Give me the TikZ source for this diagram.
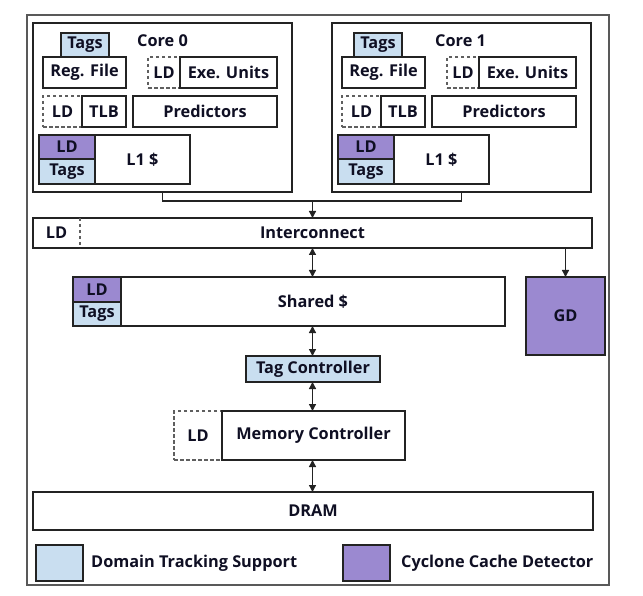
\documentclass[tikz,border=0pt]{standalone}
\usepackage{fontspec}
\setmainfont{Open Sans}
\usetikzlibrary{arrows.meta}
\definecolor{dtblue}{RGB}{201,222,240}
\definecolor{ccpurple}{RGB}{155,137,208}
\definecolor{edge}{RGB}{35,35,35}
\definecolor{dashc}{RGB}{95,95,95}
\definecolor{txt}{RGB}{15,15,35}
\tikzset{
  box/.style={draw=edge, line width=1.4pt, fill=white, inner sep=0pt, outer sep=0pt, anchor=north west, font=\fontsize{16.3}{18}\selectfont\bfseries, text=txt},
  ldbox/.style={box, draw=dashc, dash pattern=on 3.5pt off 2.5pt, fill=none},
  blu/.style={box, fill=dtblue},
  pur/.style={box, fill=ccpurple},
  lbl/.style={inner sep=0pt, font=\fontsize{16.3}{18}\selectfont\bfseries, text=txt},
  arr/.style={draw=edge, line width=1.3pt, -{Triangle[length=7pt,width=7pt]}},
  darr/.style={draw=edge, line width=1.3pt, {Triangle[length=7pt,width=7pt]}-{Triangle[length=7pt,width=7pt]}},
  ln/.style={draw=edge, line width=1.3pt},
}
\begin{document}
\begin{tikzpicture}[x=1pt,y=-1pt]
\useasboundingbox (0,0) rectangle (643,596);
\draw[draw=gray!70!black, line width=1.6pt] (27,15) rectangle (609,585);
% Core 0
\node[box, minimum width=259pt, minimum height=169pt] (core0) at (33,23) {};
\node[blu, minimum width=48pt, minimum height=24pt] (tags0) at (61,33) {Tags};
\node[lbl, anchor=west] (c0lbl) at (137,41) {Core 0};
\node[box, minimum width=83pt, minimum height=31pt] (reg0) at (43,57) {Reg. File};
\node[ldbox, minimum width=32pt, minimum height=31pt] (ldexe0) at (148,57) {LD};
\node[box, minimum width=97pt, minimum height=31pt] (exe0) at (180,57) {Exe. Units};
\node[ldbox, minimum width=39pt, minimum height=31pt] (ldtlb0) at (43,96) {LD};
\node[box, minimum width=44pt, minimum height=31pt] (tlb0) at (82,96) {TLB};
\node[box, minimum width=144pt, minimum height=31pt] (pred0) at (133,96) {Predictors};
\node[pur, minimum width=56pt, minimum height=24pt] (ldl10) at (39,135) {LD};
\node[blu, minimum width=56pt, minimum height=25pt] (tagl10) at (39,159) {Tags};
\node[box, minimum width=95pt, minimum height=49pt] (l10) at (95,135) {L1 \$};
% Core 1
\node[box, minimum width=259pt, minimum height=169pt] (core1) at (332,23) {};
\node[blu, minimum width=48pt, minimum height=24pt] (tags1) at (354,33) {Tags};
\node[lbl, anchor=west] (c1lbl) at (435,41) {Core 1};
\node[box, minimum width=83pt, minimum height=31pt] (reg1) at (342,57) {Reg. File};
\node[ldbox, minimum width=32pt, minimum height=31pt] (ldexe1) at (447,57) {LD};
\node[box, minimum width=97pt, minimum height=31pt] (exe1) at (479,57) {Exe. Units};
\node[ldbox, minimum width=39pt, minimum height=31pt] (ldtlb1) at (342,96) {LD};
\node[box, minimum width=44pt, minimum height=31pt] (tlb1) at (381,96) {TLB};
\node[box, minimum width=144pt, minimum height=31pt] (pred1) at (432,96) {Predictors};
\node[pur, minimum width=56pt, minimum height=24pt] (ldl11) at (338,135) {LD};
\node[blu, minimum width=56pt, minimum height=25pt] (tagl11) at (338,159) {Tags};
\node[box, minimum width=95pt, minimum height=49pt] (l11) at (394,135) {L1 \$};
% Interconnect
\node[box, minimum width=559pt, minimum height=30pt] (inter) at (33,218) {Interconnect};
\coordinate (ldic) at (80,218);
\draw[draw=dashc, line width=1.4pt, dash pattern=on 3.5pt off 2.5pt] (ldic) -- (ldic |- inter.south);
\node[lbl] (ldicl) at (56.5,233) {LD};
\coordinate (join) at (312.5,201);
\draw[ln] (core0.south) |- (join) -| (core1.south);
\draw[arr] (join) -- (join |- inter.north);
% GD
\node[pur, minimum width=79pt, minimum height=78pt] (gd) at (526,277) {GD};
\draw[arr] (gd.north |- inter.south) -- (gd.north);
% Shared
\node[pur, minimum width=48pt, minimum height=25pt] (ldsh) at (73,277) {LD};
\node[blu, minimum width=48pt, minimum height=24pt] (tagsh) at (73,302) {Tags};
\node[box, minimum width=384pt, minimum height=49pt] (shared) at (121,277) {Shared \$};
\draw[darr] (join |- inter.south) -- (join |- shared.north);
% Tag controller
\node[blu, minimum width=134pt, minimum height=26pt] (tagc) at (246,356) {Tag Controller};
\draw[darr] (join |- shared.south) -- (join |- tagc.north);
% Memory controller
\node[ldbox, minimum width=48pt, minimum height=49pt] (ldmc) at (174,411) {LD};
\node[box, minimum width=183pt, minimum height=49pt] (mc) at (222,411) {Memory Controller};
\draw[darr] (join |- tagc.south) -- (join |- mc.north);
% DRAM
\node[box, minimum width=560pt, minimum height=38pt] (dram) at (33,492) {DRAM};
\draw[darr] (join |- mc.south) -- (join |- dram.north);
% Legend
\node[blu, minimum width=47pt, minimum height=36pt] (legb) at (36,545) {};
\node[lbl, anchor=west] (legbt) at (91,563) {Domain Tracking Support};
\node[pur, minimum width=47pt, minimum height=36pt] (legp) at (343,545) {};
\node[lbl, anchor=west] (legpt) at (401,563) {Cyclone Cache Detector};
\end{tikzpicture}
\end{document}
